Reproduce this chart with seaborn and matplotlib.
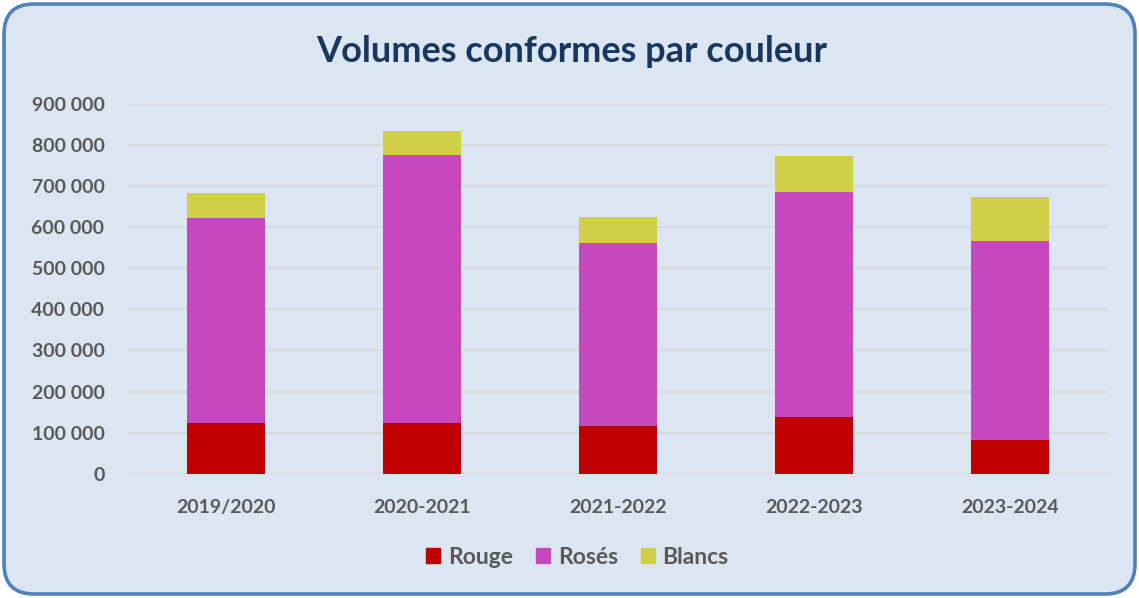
import pandas as pd
import matplotlib
matplotlib.use("Agg")
import matplotlib.pyplot as plt
import matplotlib.patches as mpatches
from matplotlib.transforms import IdentityTransform
import seaborn as sns

# ========= Data =========
campagnes = ["2019/2020", "2020-2021", "2021-2022", "2022-2023", "2023-2024"]
rouge = [124000, 124000, 117000, 139000, 83000]
roses = [499000, 653000, 444000, 546000, 484000]
blancs = [60000, 58000, 63000, 88000, 106000]
series_names = ["Rouge", "Rosés", "Blancs"]
yticks = [0, 100000, 200000, 300000, 400000, 500000, 600000, 700000, 800000, 900000]

colors = {"Rouge": "#C00000", "Rosés": "#C548BE", "Blancs": "#CFD046"}
grey = "#595959"

df = pd.DataFrame({"Campagne": campagnes, "Rouge": rouge, "Rosés": roses, "Blancs": blancs})
# cumulative heights for the stacked look (draw tallest first, then overlay)
df["cum_rouge"] = df["Rouge"]
df["cum_roses"] = df["Rouge"] + df["Rosés"]
df["cum_blancs"] = df["cum_roses"] + df["Blancs"]

# ========= Style =========
sns.set_style("white")
plt.rcParams["font.family"] = ["Lato", "DejaVu Sans"]
plt.rcParams["font.weight"] = "bold"  # every text in the chart is bold

fig = plt.figure(figsize=(11.39, 5.98), dpi=100)
fig.patch.set_facecolor("white")

# rounded light-blue panel behind everything
panel = mpatches.FancyBboxPatch((4, 4), 1131, 590,
                                boxstyle="round,pad=0,rounding_size=30",
                                facecolor="#DCE6F2", edgecolor="#4F81BD",
                                linewidth=2.6, transform=IdentityTransform(), zorder=-5)
fig.patches.append(panel)

ax = fig.add_axes([128 / 1139, 1 - 473.7 / 598, 980 / 1139, (473.7 - 104) / 598])
ax.set_zorder(2)
ax.patch.set_alpha(0)

for col, name in [("cum_blancs", "Blancs"), ("cum_roses", "Rosés"), ("cum_rouge", "Rouge")]:
    sns.barplot(data=df, x="Campagne", y=col, color=colors[name], width=0.4,
                saturation=1, linewidth=0, edgecolor="none", ax=ax, zorder=3)

ax.set_ylim(0, 900000)
ax.set_yticks(yticks)
ax.set_yticklabels([f"{v:,}".replace(",", " ") for v in yticks])
ax.yaxis.grid(True, color="#D9D9D9", linewidth=1.5, zorder=0)
ax.set_axisbelow(True)
ax.set_xlabel("")
ax.set_ylabel("")
sns.despine(ax=ax, left=True, bottom=True)
ax.tick_params(axis="both", length=0, colors=grey, labelsize=14)
ax.tick_params(axis="y", pad=17)
ax.tick_params(axis="x", pad=18)

fig.text(0.502, 1 - 52 / 598, "Volumes conformes par couleur", ha="center", va="center",
         fontsize=26, fontweight="bold", color="#17375E")

handles = [mpatches.Patch(color=colors[n], label=n) for n in series_names]
leg = fig.legend(handles=handles, loc="center", bbox_to_anchor=(0.507, 1 - 557 / 598),
                 ncol=3, frameon=False, handlelength=0.6, handleheight=0.6,
                 handletextpad=0.35, columnspacing=1.0,
                 prop={"size": 16.5, "weight": "bold"})
for t in leg.get_texts():
    t.set_color(grey)

fig.savefig("out.png", dpi=100, facecolor=fig.get_facecolor())
